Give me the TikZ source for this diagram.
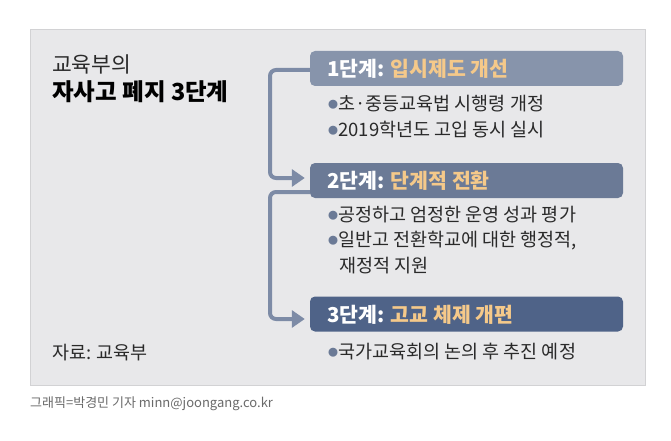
\documentclass[tikz,border=0pt]{standalone}
\usepackage{fontspec}
\setmainfont{Noto Sans CJK KR}
\usetikzlibrary{arrows.meta}
\definecolor{panelbg}{HTML}{E8E8EA}
\definecolor{panelline}{HTML}{D2D2D4}
\definecolor{boxa}{HTML}{8794AB}
\definecolor{boxb}{HTML}{6B7A96}
\definecolor{boxc}{HTML}{4F6388}
\definecolor{conncol}{HTML}{7D8BA6}
\definecolor{accent}{HTML}{F5C98A}
\definecolor{bodytext}{HTML}{2A2A2A}
\definecolor{credit}{HTML}{6A6A6A}
\tikzset{
  stagebox/.style={rectangle, rounded corners=5pt, minimum width=313pt, minimum height=35pt, inner sep=0pt},
  stagelabel/.style={anchor=west, inner sep=0pt, text=white, font=\fontsize{20.5}{23}\selectfont\bfseries},
  bullettext/.style={anchor=west, inner sep=0pt, text=bodytext, font=\fontsize{18.5}{21}\selectfont},
  conn/.style={draw=conncol, line width=4pt, rounded corners=6pt, -{Triangle[length=13pt,width=17pt]}},
}
\newcommand{\bdot}{\raisebox{2pt}{\color{boxb}\fontsize{10}{10}\selectfont●}}
\begin{document}
\begin{tikzpicture}[x=1pt,y=-1pt]
\useasboundingbox (0,0) rectangle (671,441);
\fill[white] (0,0) rectangle (671,441);
\draw[panelline, fill=panelbg, line width=1pt] (30,30) rectangle (645,385);

\node[anchor=west, inner sep=0pt, text=bodytext, font=\fontsize{21.5}{24}\selectfont] (t1) at (52,64) {교육부의};
\node[anchor=west, inner sep=0pt, text=black, font=\fontsize{23.5}{27}\selectfont\bfseries] (t2) at (52,92) {자사고 폐지 3단계};
\node[anchor=west, inner sep=0pt, text=bodytext, font=\fontsize{18.5}{21}\selectfont] (src) at (52,353) {자료: 교육부};

\node[stagebox, fill=boxa] (b1) at (466.5,68.5) {};
\node[stagebox, fill=boxb] (b2) at (466.5,180.5) {};
\node[stagebox, fill=boxc] (b3) at (466.5,314) {};

\node[stagelabel] (l1) at (327,69) {1단계: \textcolor{accent}{입시제도 개선}};
\node[stagelabel] (l2) at (327,181) {2단계: \textcolor{accent}{단계적 전환}};
\node[stagelabel] (l3) at (327,314.5) {3단계: \textcolor{accent}{고교 체제 개편}};

\node[bullettext] (p1) at (328,104) {\bdot 초·중등교육법 시행령 개정};
\node[bullettext] (p2) at (328,130) {\bdot 2019학년도 고입 동시 실시};
\node[bullettext] (p3) at (328,215) {\bdot 공정하고 엄정한 운영 성과 평가};
\node[bullettext] (p4) at (328,241) {\bdot 일반고 전환학교에 대한 행정적,};
\node[bullettext] (p5) at (339,266) {재정적 지원};
\node[bullettext] (p6) at (328,352) {\bdot 국가교육회의 논의 후 추진 예정};

\coordinate (c1) at (270,70);
\coordinate (c2) at (270,192);
\draw[conn] ([yshift=-1.5pt]b1.west) -- (c1) |- ([xshift=-5pt,yshift=2.5pt]b2.west);
\draw[conn] ([yshift=-11.5pt]b2.west) -- (c2) |- ([xshift=-5pt,yshift=-5pt]b3.west);

\node[anchor=west, inner sep=0pt, text=credit, font=\fontsize{13}{15}\selectfont] (cr) at (30,404) {그래픽=박경민 기자 minn@joongang.co.kr};
\end{tikzpicture}
\end{document}
